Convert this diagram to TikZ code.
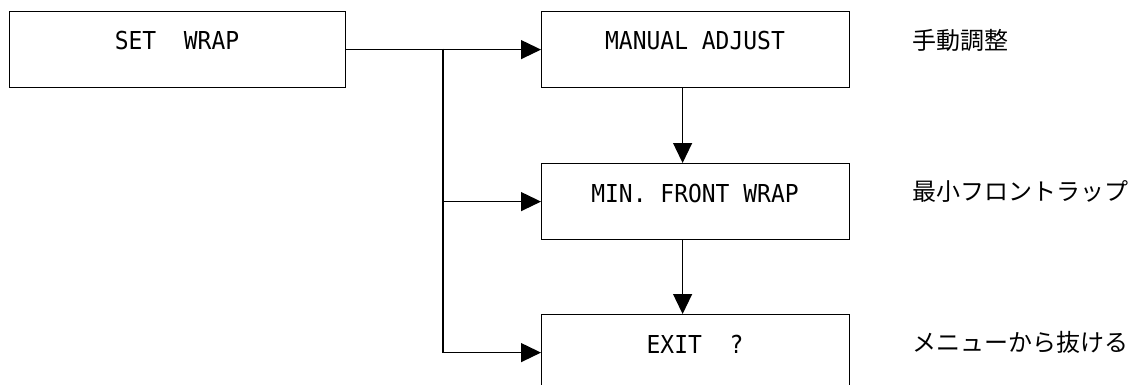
\documentclass[tikz,border=0pt]{standalone}
\usepackage{fontspec}
\usetikzlibrary{arrows.meta}
\newfontfamily\boxfont[FakeStretch=0.93]{DejaVu Sans Mono}
\newfontfamily\jpfont{Noto Sans CJK JP}
\begin{document}
\begin{tikzpicture}[x=1pt,y=-1pt,
  every path/.style={line width=1.2pt},
  menubox/.style={draw, line width=1.2pt, inner sep=0pt, anchor=north west,
    minimum height=76pt},
  boxtxt/.style={inner sep=0pt, anchor=base, font=\boxfont\fontsize{24.7}{30}\selectfont},
  jptxt/.style={inner sep=0pt, anchor=base west, font=\jpfont\fontsize{24}{30}\selectfont},
  arr/.style={-{Triangle[length=20pt,width=19pt]}, line width=1.2pt}]
\useasboundingbox (0,0) rectangle (1134,385);
% boxes
\node[menubox, minimum width=336pt] (set) at (9,11) {};
\node[menubox, minimum width=308pt] (man) at (541,11) {};
\node[menubox, minimum width=308pt] (min) at (541,163) {};
\node[menubox, minimum width=308pt] (exit) at (541,314) {};
% box texts
\node[boxtxt] (tset) at (177,50) {SET\ \ WRAP};
\node[boxtxt] (tman) at (695,50) {MANUAL ADJUST};
\node[boxtxt] (tmin) at (695,202) {MIN. FRONT WRAP};
\node[boxtxt] (texit) at (695,353) {EXIT\ \ ?};
% Japanese labels
\node[jptxt] (jman) at (912,49.5) {手動調整};
\node[jptxt] (jmin) at (912,200.5) {最小フロントラップ};
\node[jptxt] (jexit) at (912,351.5) {メニューから抜ける};
% connectors
\coordinate (j1) at (443,49);
\draw[arr] (set.east) -- (man.west);
\draw[arr] (j1) |- (min.west);
\draw[arr] (j1) |- (exit.west);
\draw[arr] ([xshift=-13pt]man.south) -- ([xshift=-13pt]min.north);
\draw[arr] ([xshift=-13pt]min.south) -- ([xshift=-13pt]exit.north);
\end{tikzpicture}
\end{document}
